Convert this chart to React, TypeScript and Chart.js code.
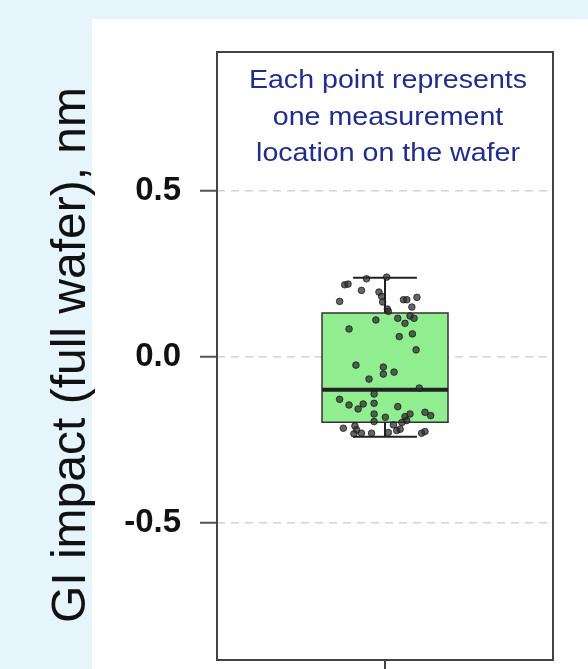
import React, { useEffect, useRef } from "react";
import { Chart, registerables } from "chart.js";

Chart.register(...registerables);

// ---- data ----
const yTickValues = [-0.5, 0, 0.5];
const yTitle = "GI impact (full wafer), nm";
const noteLines = ["Each point represents", "one measurement", "location on the wafer"];

// box statistics: [lower whisker, Q1, median, Q3, upper whisker]
const boxStats = [-0.241, -0.197, -0.099, 0.132, 0.238];

// jittered points: x offset (jitter) and y value
const pointJitter = [
  -0.11, 0.01, -0.24, -0.22, -0.14, -0.036, -0.02, -0.27, -0.014, 0.11, 0.13, 0.19, 0.16, 0.014, 0.02,
  -0.054, 0.076, 0.149, 0.173, 0.119, -0.214, 0.163, 0.085, 0.185, -0.173, -0.01, -0.01, 0.054, -0.095, 0.204,
  -0.065, -0.27, -0.214, -0.16, -0.13, -0.065, 0.076, -0.065, 0.002, 0.119, 0.149, 0.238, 0.272, -0.065, 0.129,
  -0.248, -0.179, -0.169, -0.14, -0.08, 0.02, 0.07, 0.1, 0.218, 0.238, -0.185, 0.09, 0.05,
];
const pointValues = [
  0.235, 0.24, 0.217, 0.219, 0.2, 0.195, 0.182, 0.167, 0.165, 0.172, 0.172, 0.179, 0.15, 0.144, 0.137,
  0.111, 0.116, 0.123, 0.116, 0.101, 0.084, 0.069, 0.061, 0.021, -0.025, -0.031, -0.052, -0.046, -0.067, -0.094,
  -0.112, -0.128, -0.145, -0.157, -0.142, -0.14, -0.15, -0.172, -0.182, -0.18, -0.172, -0.167, -0.177, -0.195, -0.192,
  -0.215, -0.208, -0.22, -0.23, -0.23, -0.228, -0.222, -0.198, -0.23, -0.225, -0.232, -0.218, -0.205,
];

const boxHalfWidth = 0.375;
const capHalfWidth = 0.19;

export default function App() {
  const canvasRef = useRef<HTMLCanvasElement | null>(null);

  useEffect(() => {
    const canvas = canvasRef.current;
    if (!canvas) return;
    const [wLo, q1, med, q3, wHi] = boxStats;

    const seg = (a: { x: number; y: number }, b: { x: number; y: number }, order: number, width: number) => ({
      type: "line" as const,
      data: [a, b],
      borderColor: "#222",
      borderWidth: width,
      pointRadius: 0,
      showLine: true,
      fill: false,
      order,
    });

    const bgPlugin = {
      id: "bg",
      beforeDraw(chart: any) {
        const { ctx, width, height } = chart;
        ctx.save();
        ctx.fillStyle = "#e6f4fc";
        ctx.fillRect(0, 0, width, height);
        ctx.fillStyle = "#ffffff";
        ctx.fillRect(92, 19, width - 92, height - 19);
        ctx.restore();
      },
      beforeDatasetsDraw(chart: any) {
        // box body from Q1..Q3 via scales
        const { ctx } = chart;
        const xs = chart.scales.x;
        const ys = chart.scales.y;
        const l = xs.getPixelForValue(-boxHalfWidth);
        const r = xs.getPixelForValue(boxHalfWidth);
        const t = ys.getPixelForValue(q3);
        const b = ys.getPixelForValue(q1);
        ctx.save();
        ctx.fillStyle = "#90ee90";
        ctx.fillRect(l, t, r - l, b - t);
        ctx.strokeStyle = "#333";
        ctx.lineWidth = 1.5;
        ctx.strokeRect(l, t, r - l, b - t);
        ctx.restore();
      },
      afterDraw(chart: any) {
        const { ctx, chartArea } = chart;
        ctx.save();
        ctx.strokeStyle = "#444";
        ctx.lineWidth = 2;
        ctx.strokeRect(chartArea.left, chartArea.top, chartArea.right - chartArea.left, chartArea.bottom - chartArea.top);
        // note text
        ctx.fillStyle = "#1f2e8a";
        ctx.font = "26px 'Liberation Sans', Arial, sans-serif";
        ctx.textAlign = "center";
        ctx.textBaseline = "alphabetic";
        const cx = (chartArea.left + chartArea.right) / 2 + 3;
        noteLines.forEach((t, i) => {
          ctx.save();
          ctx.translate(cx, chartArea.top + 36 + i * 36.5);
          ctx.scale(1.1, 1);
          ctx.fillText(t, 0, 0);
          ctx.restore();
        });
        // y title
        ctx.fillStyle = "#111";
        ctx.font = "48px 'Liberation Sans', Arial, sans-serif";
        ctx.translate(85, 355);
        ctx.rotate(-Math.PI / 2);
        ctx.fillText(yTitle, 0, 0);
        ctx.restore();
      },
    };

    const chart = new Chart(canvas, {
      type: "scatter",
      data: {
        datasets: [
          {
            type: "scatter" as const,
            data: pointJitter.map((x, i) => ({ x, y: pointValues[i] })),
            pointRadius: 3.3,
            pointBackgroundColor: "rgba(50,50,50,0.75)",
            pointBorderColor: "rgba(20,20,20,0.75)",
            pointBorderWidth: 1,
            order: 0,
          },
          seg({ x: -boxHalfWidth, y: med }, { x: boxHalfWidth, y: med }, 1, 4),
          seg({ x: 0, y: q3 }, { x: 0, y: wHi }, 2, 2),
          seg({ x: -capHalfWidth, y: wHi }, { x: capHalfWidth, y: wHi }, 2, 2),
          seg({ x: 0, y: q1 }, { x: 0, y: wLo }, 2, 2),
          seg({ x: -capHalfWidth, y: wLo }, { x: capHalfWidth, y: wLo }, 2, 2),
        ],
      },
      options: {
        animation: false,
        responsive: false,
        devicePixelRatio: 1,
        layout: { padding: { top: 52, right: 35, left: 0, bottom: 0 } },
        plugins: { legend: { display: false }, tooltip: { enabled: false } },
        scales: {
          x: {
            type: "linear",
            min: -1,
            max: 1,
            offset: false,
            afterBuildTicks: (s: any) => {
              s.ticks = [{ value: 0 }];
            },
            afterFit: (s: any) => {
              s.height = 9;
              s.paddingLeft = 0;
              s.paddingRight = 0;
            },
            ticks: { display: false },
            grid: { offset: false, drawOnChartArea: false, drawTicks: true, tickLength: 16, color: "#444", lineWidth: 2 },
            border: { display: false },
          },
          y: {
            type: "linear",
            min: -0.913,
            max: 0.918,
            afterBuildTicks: (s: any) => {
              s.ticks = yTickValues.map((v) => ({ value: v }));
            },
            afterFit: (s: any) => {
              s.width = 217;
              s.paddingTop = 0;
              s.paddingBottom = 0;
            },
            ticks: {
              padding: 19,
              color: "#111",
              font: { family: "'Liberation Sans', Arial, sans-serif", size: 33, weight: "bold" },
              callback: (v: any) => Number(v).toFixed(1),
            },
            grid: {
              color: "#d3d3d3",
              lineWidth: 1.5,
              tickLength: 17,
              tickColor: "#555",
              tickWidth: 2,
              tickBorderDash: [],
            } as any,
            border: { display: false, dash: [8, 6] },
          },
        },
      },
      plugins: [bgPlugin],
    } as any);

    return () => chart.destroy();
  }, []);

  return (
    <div style={{ position: "absolute", left: 0, top: 0, width: 588, height: 669 }}>
      <canvas ref={canvasRef} width={588} height={669} style={{ display: "block" }} />
    </div>
  );
}
